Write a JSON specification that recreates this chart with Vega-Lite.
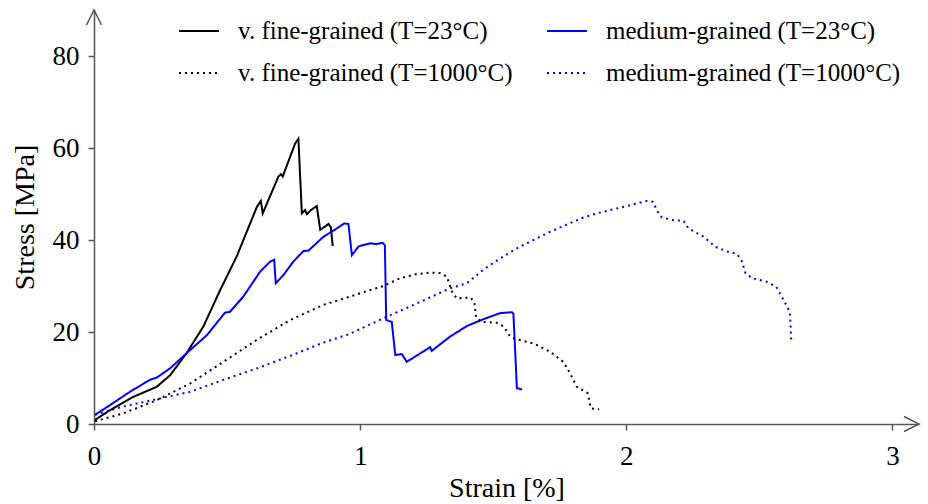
{
  "$schema": "https://vega.github.io/schema/vega-lite/v6.json",
  "width": 825,
  "height": 414,
  "autosize": {"type": "none"},
  "padding": {"left": 94, "top": 10, "right": 9, "bottom": 80},
  "background": "white",
  "config": {
    "view": {"stroke": null},
    "font": "Liberation Serif",
    "axis": {
      "grid": false,
      "domainColor": "#555555",
      "domainWidth": 1.5,
      "tickColor": "#555555",
      "tickWidth": 1.5,
      "tickSize": 6,
      "labelFont": "Liberation Serif",
      "labelFontSize": 27,
      "labelColor": "black",
      "labelFlush": false,
      "titleFont": "Liberation Serif",
      "titleFontSize": 28,
      "titleFontWeight": "normal",
      "titleColor": "black"
    }
  },
  "datasets": {
    "curves": [
      {"series": "v. fine-grained (T=23°C)", "strain": 0.004, "stress": 0.9},
      {"series": "v. fine-grained (T=23°C)", "strain": 0.06, "stress": 3.0},
      {"series": "v. fine-grained (T=23°C)", "strain": 0.148, "stress": 5.9},
      {"series": "v. fine-grained (T=23°C)", "strain": 0.236, "stress": 8.1},
      {"series": "v. fine-grained (T=23°C)", "strain": 0.286, "stress": 10.6},
      {"series": "v. fine-grained (T=23°C)", "strain": 0.348, "stress": 15.4},
      {"series": "v. fine-grained (T=23°C)", "strain": 0.411, "stress": 21.2},
      {"series": "v. fine-grained (T=23°C)", "strain": 0.474, "stress": 29.1},
      {"series": "v. fine-grained (T=23°C)", "strain": 0.536, "stress": 36.4},
      {"series": "v. fine-grained (T=23°C)", "strain": 0.612, "stress": 47.2},
      {"series": "v. fine-grained (T=23°C)", "strain": 0.627, "stress": 48.5},
      {"series": "v. fine-grained (T=23°C)", "strain": 0.634, "stress": 45.8},
      {"series": "v. fine-grained (T=23°C)", "strain": 0.693, "stress": 53.8},
      {"series": "v. fine-grained (T=23°C)", "strain": 0.702, "stress": 54.3},
      {"series": "v. fine-grained (T=23°C)", "strain": 0.709, "stress": 53.8},
      {"series": "v. fine-grained (T=23°C)", "strain": 0.756, "stress": 61.0},
      {"series": "v. fine-grained (T=23°C)", "strain": 0.768, "stress": 62.0},
      {"series": "v. fine-grained (T=23°C)", "strain": 0.781, "stress": 45.8},
      {"series": "v. fine-grained (T=23°C)", "strain": 0.793, "stress": 46.5},
      {"series": "v. fine-grained (T=23°C)", "strain": 0.80, "stress": 45.6},
      {"series": "v. fine-grained (T=23°C)", "strain": 0.815, "stress": 46.5},
      {"series": "v. fine-grained (T=23°C)", "strain": 0.837, "stress": 47.4},
      {"series": "v. fine-grained (T=23°C)", "strain": 0.850, "stress": 42.2},
      {"series": "v. fine-grained (T=23°C)", "strain": 0.870, "stress": 43.0},
      {"series": "v. fine-grained (T=23°C)", "strain": 0.881, "stress": 43.5},
      {"series": "v. fine-grained (T=23°C)", "strain": 0.890, "stress": 42.8},
      {"series": "v. fine-grained (T=23°C)", "strain": 0.897, "stress": 38.7},

      {"series": "medium-grained (T=23°C)", "strain": 0.004, "stress": 2.0},
      {"series": "medium-grained (T=23°C)", "strain": 0.06, "stress": 4.1},
      {"series": "medium-grained (T=23°C)", "strain": 0.135, "stress": 7.0},
      {"series": "medium-grained (T=23°C)", "strain": 0.21, "stress": 9.6},
      {"series": "medium-grained (T=23°C)", "strain": 0.236, "stress": 10.1},
      {"series": "medium-grained (T=23°C)", "strain": 0.286, "stress": 12.1},
      {"series": "medium-grained (T=23°C)", "strain": 0.348, "stress": 15.4},
      {"series": "medium-grained (T=23°C)", "strain": 0.424, "stress": 19.3},
      {"series": "medium-grained (T=23°C)", "strain": 0.492, "stress": 24.2},
      {"series": "medium-grained (T=23°C)", "strain": 0.511, "stress": 24.4},
      {"series": "medium-grained (T=23°C)", "strain": 0.561, "stress": 27.7},
      {"series": "medium-grained (T=23°C)", "strain": 0.624, "stress": 33.1},
      {"series": "medium-grained (T=23°C)", "strain": 0.662, "stress": 35.3},
      {"series": "medium-grained (T=23°C)", "strain": 0.677, "stress": 35.7},
      {"series": "medium-grained (T=23°C)", "strain": 0.683, "stress": 30.6},
      {"series": "medium-grained (T=23°C)", "strain": 0.712, "stress": 32.4},
      {"series": "medium-grained (T=23°C)", "strain": 0.749, "stress": 35.3},
      {"series": "medium-grained (T=23°C)", "strain": 0.787, "stress": 37.6},
      {"series": "medium-grained (T=23°C)", "strain": 0.806, "stress": 37.7},
      {"series": "medium-grained (T=23°C)", "strain": 0.862, "stress": 40.7},
      {"series": "medium-grained (T=23°C)", "strain": 0.912, "stress": 42.5},
      {"series": "medium-grained (T=23°C)", "strain": 0.940, "stress": 43.6},
      {"series": "medium-grained (T=23°C)", "strain": 0.956, "stress": 43.5},
      {"series": "medium-grained (T=23°C)", "strain": 0.969, "stress": 36.7},
      {"series": "medium-grained (T=23°C)", "strain": 0.994, "stress": 38.6},
      {"series": "medium-grained (T=23°C)", "strain": 1.013, "stress": 38.9},
      {"series": "medium-grained (T=23°C)", "strain": 1.038, "stress": 39.3},
      {"series": "medium-grained (T=23°C)", "strain": 1.060, "stress": 39.1},
      {"series": "medium-grained (T=23°C)", "strain": 1.084, "stress": 39.4},
      {"series": "medium-grained (T=23°C)", "strain": 1.093, "stress": 38.9},
      {"series": "medium-grained (T=23°C)", "strain": 1.098, "stress": 22.6},
      {"series": "medium-grained (T=23°C)", "strain": 1.119, "stress": 22.2},
      {"series": "medium-grained (T=23°C)", "strain": 1.132, "stress": 15.0},
      {"series": "medium-grained (T=23°C)", "strain": 1.157, "stress": 15.2},
      {"series": "medium-grained (T=23°C)", "strain": 1.175, "stress": 13.5},
      {"series": "medium-grained (T=23°C)", "strain": 1.263, "stress": 16.7},
      {"series": "medium-grained (T=23°C)", "strain": 1.269, "stress": 15.9},
      {"series": "medium-grained (T=23°C)", "strain": 1.338, "stress": 19.0},
      {"series": "medium-grained (T=23°C)", "strain": 1.401, "stress": 21.3},
      {"series": "medium-grained (T=23°C)", "strain": 1.464, "stress": 22.8},
      {"series": "medium-grained (T=23°C)", "strain": 1.526, "stress": 24.1},
      {"series": "medium-grained (T=23°C)", "strain": 1.570, "stress": 24.3},
      {"series": "medium-grained (T=23°C)", "strain": 1.576, "stress": 24.0},
      {"series": "medium-grained (T=23°C)", "strain": 1.589, "stress": 7.8},
      {"series": "medium-grained (T=23°C)", "strain": 1.608, "stress": 7.5},

      {"series": "v. fine-grained (T=1000°C)", "strain": 0.004, "stress": 0.6},
      {"series": "v. fine-grained (T=1000°C)", "strain": 0.110, "stress": 2.3},
      {"series": "v. fine-grained (T=1000°C)", "strain": 0.236, "stress": 5.2},
      {"series": "v. fine-grained (T=1000°C)", "strain": 0.361, "stress": 8.8},
      {"series": "v. fine-grained (T=1000°C)", "strain": 0.486, "stress": 13.5},
      {"series": "v. fine-grained (T=1000°C)", "strain": 0.612, "stress": 18.3},
      {"series": "v. fine-grained (T=1000°C)", "strain": 0.737, "stress": 22.6},
      {"series": "v. fine-grained (T=1000°C)", "strain": 0.862, "stress": 25.9},
      {"series": "v. fine-grained (T=1000°C)", "strain": 0.962, "stress": 27.7},
      {"series": "v. fine-grained (T=1000°C)", "strain": 1.031, "stress": 29.0},
      {"series": "v. fine-grained (T=1000°C)", "strain": 1.088, "stress": 30.0},
      {"series": "v. fine-grained (T=1000°C)", "strain": 1.150, "stress": 31.7},
      {"series": "v. fine-grained (T=1000°C)", "strain": 1.213, "stress": 32.6},
      {"series": "v. fine-grained (T=1000°C)", "strain": 1.263, "stress": 32.9},
      {"series": "v. fine-grained (T=1000°C)", "strain": 1.301, "stress": 32.8},
      {"series": "v. fine-grained (T=1000°C)", "strain": 1.326, "stress": 32.0},
      {"series": "v. fine-grained (T=1000°C)", "strain": 1.345, "stress": 28.8},
      {"series": "v. fine-grained (T=1000°C)", "strain": 1.363, "stress": 27.3},
      {"series": "v. fine-grained (T=1000°C)", "strain": 1.414, "stress": 27.5},
      {"series": "v. fine-grained (T=1000°C)", "strain": 1.429, "stress": 26.6},
      {"series": "v. fine-grained (T=1000°C)", "strain": 1.436, "stress": 23.0},
      {"series": "v. fine-grained (T=1000°C)", "strain": 1.457, "stress": 22.2},
      {"series": "v. fine-grained (T=1000°C)", "strain": 1.514, "stress": 22.0},
      {"series": "v. fine-grained (T=1000°C)", "strain": 1.539, "stress": 21.2},
      {"series": "v. fine-grained (T=1000°C)", "strain": 1.564, "stress": 19.0},
      {"series": "v. fine-grained (T=1000°C)", "strain": 1.589, "stress": 18.4},
      {"series": "v. fine-grained (T=1000°C)", "strain": 1.652, "stress": 17.5},
      {"series": "v. fine-grained (T=1000°C)", "strain": 1.714, "stress": 15.7},
      {"series": "v. fine-grained (T=1000°C)", "strain": 1.764, "stress": 13.5},
      {"series": "v. fine-grained (T=1000°C)", "strain": 1.789, "stress": 11.0},
      {"series": "v. fine-grained (T=1000°C)", "strain": 1.814, "stress": 8.1},
      {"series": "v. fine-grained (T=1000°C)", "strain": 1.855, "stress": 6.7},
      {"series": "v. fine-grained (T=1000°C)", "strain": 1.867, "stress": 3.4},
      {"series": "v. fine-grained (T=1000°C)", "strain": 1.898, "stress": 3.2},

      {"series": "medium-grained (T=1000°C)", "strain": 0.004, "stress": 2.0},
      {"series": "medium-grained (T=1000°C)", "strain": 0.110, "stress": 3.8},
      {"series": "medium-grained (T=1000°C)", "strain": 0.236, "stress": 5.4},
      {"series": "medium-grained (T=1000°C)", "strain": 0.361, "stress": 7.0},
      {"series": "medium-grained (T=1000°C)", "strain": 0.486, "stress": 9.6},
      {"series": "medium-grained (T=1000°C)", "strain": 0.612, "stress": 12.1},
      {"series": "medium-grained (T=1000°C)", "strain": 0.737, "stress": 14.8},
      {"series": "medium-grained (T=1000°C)", "strain": 0.862, "stress": 17.7},
      {"series": "medium-grained (T=1000°C)", "strain": 0.962, "stress": 19.6},
      {"series": "medium-grained (T=1000°C)", "strain": 1.031, "stress": 21.5},
      {"series": "medium-grained (T=1000°C)", "strain": 1.088, "stress": 23.0},
      {"series": "medium-grained (T=1000°C)", "strain": 1.213, "stress": 26.2},
      {"series": "medium-grained (T=1000°C)", "strain": 1.338, "stress": 29.5},
      {"series": "medium-grained (T=1000°C)", "strain": 1.401, "stress": 30.6},
      {"series": "medium-grained (T=1000°C)", "strain": 1.464, "stress": 33.6},
      {"series": "medium-grained (T=1000°C)", "strain": 1.526, "stress": 36.0},
      {"series": "medium-grained (T=1000°C)", "strain": 1.589, "stress": 38.2},
      {"series": "medium-grained (T=1000°C)", "strain": 1.714, "stress": 41.8},
      {"series": "medium-grained (T=1000°C)", "strain": 1.839, "stress": 44.9},
      {"series": "medium-grained (T=1000°C)", "strain": 1.890, "stress": 45.8},
      {"series": "medium-grained (T=1000°C)", "strain": 2.003, "stress": 47.4},
      {"series": "medium-grained (T=1000°C)", "strain": 2.078, "stress": 48.5},
      {"series": "medium-grained (T=1000°C)", "strain": 2.100, "stress": 48.3},
      {"series": "medium-grained (T=1000°C)", "strain": 2.118, "stress": 46.2},
      {"series": "medium-grained (T=1000°C)", "strain": 2.134, "stress": 44.9},
      {"series": "medium-grained (T=1000°C)", "strain": 2.178, "stress": 44.3},
      {"series": "medium-grained (T=1000°C)", "strain": 2.215, "stress": 44.2},
      {"series": "medium-grained (T=1000°C)", "strain": 2.234, "stress": 42.5},
      {"series": "medium-grained (T=1000°C)", "strain": 2.291, "stress": 40.7},
      {"series": "medium-grained (T=1000°C)", "strain": 2.335, "stress": 38.5},
      {"series": "medium-grained (T=1000°C)", "strain": 2.379, "stress": 37.5},
      {"series": "medium-grained (T=1000°C)", "strain": 2.416, "stress": 37.0},
      {"series": "medium-grained (T=1000°C)", "strain": 2.435, "stress": 35.3},
      {"series": "medium-grained (T=1000°C)", "strain": 2.447, "stress": 32.9},
      {"series": "medium-grained (T=1000°C)", "strain": 2.473, "stress": 31.7},
      {"series": "medium-grained (T=1000°C)", "strain": 2.529, "stress": 30.9},
      {"series": "medium-grained (T=1000°C)", "strain": 2.564, "stress": 29.8},
      {"series": "medium-grained (T=1000°C)", "strain": 2.591, "stress": 27.0},
      {"series": "medium-grained (T=1000°C)", "strain": 2.614, "stress": 24.4},
      {"series": "medium-grained (T=1000°C)", "strain": 2.617, "stress": 21.9},
      {"series": "medium-grained (T=1000°C)", "strain": 2.620, "stress": 17.9}
    ]
  },
  "layer": [
    {
      "data": {"name": "curves"},
      "mark": {"type": "line", "strokeWidth": 2, "clip": false},
      "encoding": {
        "x": {
          "field": "strain",
          "type": "quantitative",
          "scale": {"domain": [0, 3.1], "nice": false, "zero": true},
          "axis": {
            "values": [0, 1, 2, 3],
            "format": "d",
            "title": "Strain [%]",
            "labelPadding": 13,
            "titleY": 72,
            "titleBaseline": "alphabetic"
          }
        },
        "y": {
          "field": "stress",
          "type": "quantitative",
          "scale": {"domain": [0, 90], "nice": false},
          "axis": {
            "values": [0, 20, 40, 60, 80],
            "format": "d",
            "title": "Stress [MPa]",
            "labelPadding": 9,
            "titleX": -61,
            "titleBaseline": "alphabetic"
          }
        },
        "color": {
          "field": "series",
          "type": "nominal",
          "scale": {
            "domain": ["v. fine-grained (T=23°C)", "v. fine-grained (T=1000°C)", "medium-grained (T=23°C)", "medium-grained (T=1000°C)"],
            "range": ["#000000", "#000000", "#0000ff", "#0000ff"]
          },
          "legend": {
            "orient": "none",
            "legendX": 84,
            "legendY": 0,
            "columns": 2,
            "title": null,
            "symbolType": "stroke",
            "symbolSize": 1600,
            "symbolStrokeWidth": 2,
            "labelFont": "Liberation Serif",
            "labelFontSize": 25,
            "labelColor": "black",
            "labelOffset": 18,
            "labelLimit": 0,
            "columnPadding": 30,
            "rowPadding": 8,
            "padding": 0
          }
        },
        "strokeDash": {
          "field": "series",
          "type": "nominal",
          "scale": {
            "domain": ["v. fine-grained (T=23°C)", "v. fine-grained (T=1000°C)", "medium-grained (T=23°C)", "medium-grained (T=1000°C)"],
            "range": [[1, 0], [2, 4], [1, 0], [2, 4]]
          },
          "legend": {
            "orient": "none",
            "legendX": 84,
            "legendY": 0,
            "columns": 2,
            "title": null,
            "symbolType": "stroke",
            "symbolSize": 1600,
            "symbolStrokeWidth": 2,
            "labelFont": "Liberation Serif",
            "labelFontSize": 25,
            "labelColor": "black",
            "labelOffset": 18,
            "labelLimit": 0,
            "columnPadding": 30,
            "rowPadding": 8,
            "padding": 0
          }
        },
        "order": {"value": null}
      }
    },
    {
      "data": {"values": [{"strain": 3.1, "stress": 0}]},
      "mark": {"type": "point", "shape": "M-1,-0.5L0,0L-1,0.5", "size": 900, "filled": false, "stroke": "#555555", "strokeWidth": 1.5, "opacity": 1, "clip": false},
      "encoding": {
        "x": {"field": "strain", "type": "quantitative"},
        "y": {"field": "stress", "type": "quantitative"}
      }
    },
    {
      "data": {"values": [{"strain": 0, "stress": 90}]},
      "mark": {"type": "point", "shape": "M-0.5,1L0,0L0.5,1", "size": 900, "filled": false, "stroke": "#555555", "strokeWidth": 1.5, "opacity": 1, "clip": false},
      "encoding": {
        "x": {"field": "strain", "type": "quantitative"},
        "y": {"field": "stress", "type": "quantitative"}
      }
    }
  ]
}
